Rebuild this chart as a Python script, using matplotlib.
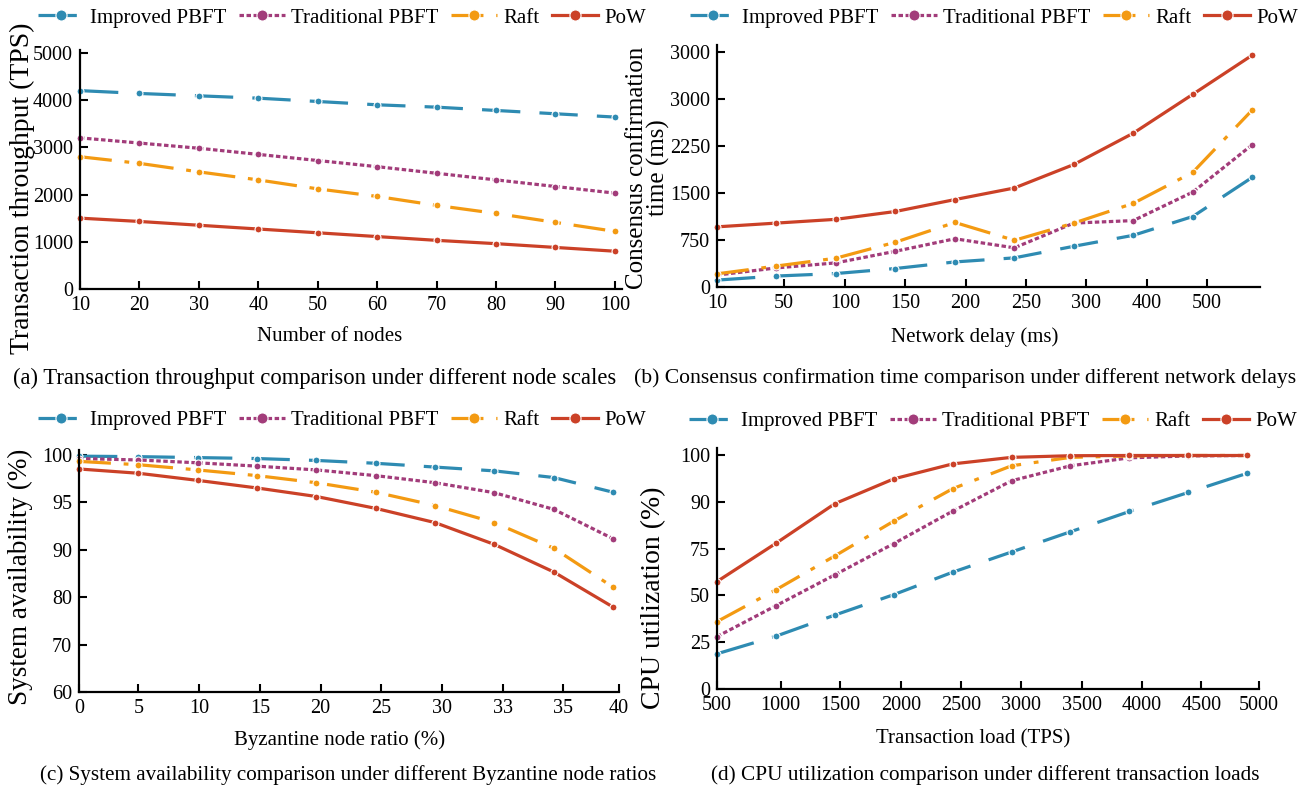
import numpy as np
import matplotlib
matplotlib.use('Agg')
import matplotlib.pyplot as plt

plt.rcParams['font.family'] = ['Liberation Serif', 'DejaVu Serif']

series = ['Improved PBFT', 'Traditional PBFT', 'Raft', 'PoW']

# (a) throughput vs node count
nodes = [10, 20, 30, 40, 50, 60, 70, 80, 90, 100]
tps_improved = [4200, 4140, 4090, 4040, 3970, 3900, 3850, 3780, 3710, 3640]
tps_traditional = [3200, 3090, 2980, 2850, 2720, 2590, 2450, 2310, 2170, 2030]
tps_raft = [2800, 2660, 2480, 2310, 2120, 1960, 1770, 1600, 1410, 1220]
tps_pow = [1500, 1430, 1350, 1270, 1190, 1110, 1030, 960, 880, 800]

# (b) confirmation time vs network delay
delay_labels = ['10', '50', '100', '150', '200', '250', '300', '400', '500']
time_improved = [110, 175, 215, 295, 400, 465, 650, 825, 1125, 1750]
time_traditional = [190, 305, 385, 570, 770, 625, 1020, 1060, 1515, 2270]
time_raft = [210, 335, 460, 715, 1030, 745, 1020, 1335, 1830, 2825]
time_pow = [960, 1020, 1080, 1205, 1395, 1580, 1955, 2455, 3075, 3700]
time_ticks = [0, 750, 1500, 2250, 3000, 3750]
time_tick_labels = ['0', '750', '1500', '2250', '3000', '3000']

# (c) availability vs byzantine ratio
byz_labels = ['0', '5', '10', '15', '20', '25', '30', '33', '35', '40']
avail_improved = [99.85, 99.8, 99.7, 99.6, 99.4, 99.1, 98.7, 98.3, 97.6, 96.05]
avail_traditional = [99.6, 99.45, 99.15, 98.8, 98.4, 97.8, 97.05, 96.0, 94.25, 91.15]
avail_raft = [99.3, 98.95, 98.4, 97.8, 97.05, 96.05, 94.65, 92.85, 90.15, 82.1]
avail_pow = [98.5, 98.05, 97.3, 96.5, 95.6, 94.35, 92.85, 90.55, 85.3, 77.9]
avail_ticks = [60, 70, 80, 90, 95, 100]

# (d) CPU utilization vs load
load_labels = ['500', '1000', '1500', '2000', '2500', '3000', '3500', '4000', '4500', '5000']
cpu_improved = [18.8, 28.2, 39.5, 50.4, 62.4, 73.2, 80.4, 86.9, 92.0, 96.1]
cpu_traditional = [28.0, 44.5, 61.0, 76.6, 87.0, 94.5, 97.7, 99.4, 99.8, 99.9]
cpu_raft = [36.0, 53.0, 71.1, 83.8, 92.8, 97.7, 99.5, 99.8, 99.9, 99.9]
cpu_pow = [57.4, 76.7, 89.4, 94.9, 98.1, 99.5, 99.85, 99.9, 99.9, 99.9]
cpu_ticks = [0, 25, 50, 75, 90, 100]

colors = ['#2E8BB2', '#A23C7A', '#F39A12', '#CB4127']
dashes = [(12, 6), (1.4, 0.8), (10, 4, 1.5, 4), None]

W, H = 1308, 791
fig = plt.figure(figsize=(W / 100, H / 100), dpi=100)


def rect(l, t, r, b):
    return [l / W, 1 - b / H, (r - l) / W, (b - t) / H]


def style(ax):
    for s in ['top', 'right']:
        ax.spines[s].set_visible(False)
    for s in ['left', 'bottom']:
        ax.spines[s].set_linewidth(1.6)
    ax.tick_params(direction='in', length=6, width=1.5, labelsize=14.5, pad=5)
    ax.minorticks_off()


def draw(ax, x, ys):
    for y, name, c, d in zip(ys, series, colors, dashes):
        ln, = ax.plot(x, y, color=c, lw=2.3, marker='o', ms=5, mec='white', mew=0.8,
                      label=name, clip_on=False)
        if d is not None:
            ln.set_dashes(d)


def legend(ax, cx, cy):
    ax.legend(loc='center', bbox_to_anchor=(cx / W, 1 - cy / H), bbox_transform=fig.transFigure,
              ncol=4, frameon=False, fontsize=15, handlelength=2.2, handletextpad=0.3,
              columnspacing=0.6, numpoints=1, markerscale=1.6, borderaxespad=0, borderpad=0)


def piecewise(vals, idx):
    def fwd(v):
        return np.interp(v, vals, idx)

    def inv(i):
        return np.interp(i, idx, vals)
    return fwd, inv


# (a)
ax1 = fig.add_axes(rect(80, 50, 622, 289))
draw(ax1, nodes, [tps_improved, tps_traditional, tps_raft, tps_pow])
ax1.set_xlim(10, 101.2)
ax1.set_ylim(0, 5060)
ax1.set_xticks(nodes)
ax1.set_yticks([0, 1000, 2000, 3000, 4000, 5000])
style(ax1)
legend(ax1, 342, 18)

# (b)
ax2 = fig.add_axes(rect(717, 45, 1260, 287))
xb = np.arange(len(time_pow))
draw(ax2, xb, [time_improved, time_traditional, time_raft, time_pow])
ax2.set_xlim(0, 9.13)
ax2.set_ylim(0, 3862)
ax2.set_xticks([0, 1.13, 2.15, 3.16, 4.18, 5.2, 6.21, 7.23, 8.24])
ax2.set_xticklabels(delay_labels)
ax2.set_yticks(time_ticks)
ax2.set_yticklabels(time_tick_labels)
style(ax2)
legend(ax2, 994, 18)

# (c)
ax3 = fig.add_axes(rect(79, 450, 619, 692))
ax3.set_yscale('function', functions=piecewise([60, 70, 80, 90, 95, 100, 110], [0, 1, 2, 3, 4, 5, 7]))
xc = np.arange(len(avail_pow))
draw(ax3, xc, [avail_improved, avail_traditional, avail_raft, avail_pow])
ax3.set_xlim(0, 9.1)
ax3.set_ylim(60, 100.5)
ax3.set_xticks([0, 1, 2.02, 3.05, 4.07, 5.09, 6.12, 7.14, 8.16, 9.1])
ax3.set_xticklabels(byz_labels)
ax3.set_yticks(avail_ticks)
ax3.set_yticklabels([str(v) for v in avail_ticks])
style(ax3)
legend(ax3, 342, 420)

# (d)
ax4 = fig.add_axes(rect(717, 448, 1259, 689))
ax4.set_yscale('function', functions=piecewise([0, 25, 50, 75, 90, 100, 110], [0, 1, 2, 3, 4, 5, 6]))
xd = np.arange(len(cpu_pow))
draw(ax4, xd, [cpu_improved, cpu_traditional, cpu_raft, cpu_pow])
ax4.set_xlim(0, 9.11)
ax4.set_ylim(0, 101.5)
ax4.set_xticks([0, 1.08, 2.09, 3.12, 4.14, 5.16, 6.19, 7.21, 8.22, 9.2])
ax4.set_xticklabels(load_labels)
ax4.set_yticks(cpu_ticks)
ax4.set_yticklabels([str(v) for v in cpu_ticks])
style(ax4)
legend(ax4, 993, 421)


# axis titles and captions
def ftext(x, y, s, **kw):
    fig.text(x / W, 1 - y / H, s, ha='center', va='center', **kw)


ftext(330, 337, 'Number of nodes', fontsize=15)
ftext(975, 337, 'Network delay (ms)', fontsize=15)
ftext(340, 740, 'Byzantine node ratio (%)', fontsize=15)
ftext(973, 739, 'Transaction load (TPS)', fontsize=15)

ftext(22, 188, 'Transaction throughput (TPS)', fontsize=20, rotation=90)
ftext(648, 168, 'Consensus confirmation\ntime (ms)', fontsize=18, rotation=90, linespacing=0.92)
ftext(20, 577, 'System availability (%)', fontsize=19.5, rotation=90)
ftext(654, 598, 'CPU utilization (%)', fontsize=20, rotation=90)

ftext(315, 378, '(a) Transaction throughput comparison under different node scales', fontsize=16.3)
ftext(965, 378, '(b) Consensus confirmation time comparison under different network delays', fontsize=15.6)
ftext(348, 775, '(c) System availability comparison under different Byzantine node ratios', fontsize=15.2)
ftext(985, 775, '(d) CPU utilization comparison under different transaction loads', fontsize=15.3)

fig.savefig('out.png', dpi=100)
